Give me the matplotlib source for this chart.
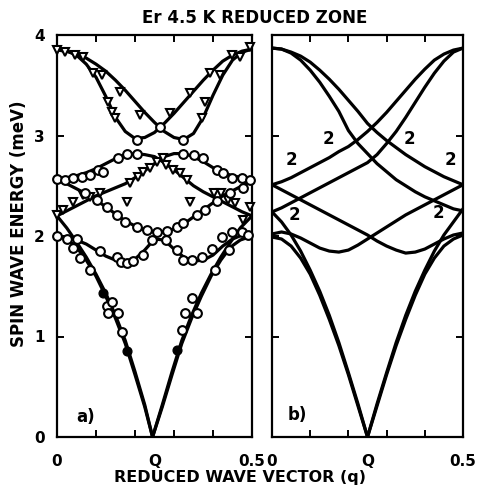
import numpy as np
import matplotlib.pyplot as plt

plt.rcParams['font.family'] = ['DejaVu Sans']
plt.rcParams['font.weight'] = 'bold'

# common wave-vector grid (reduced units, Q sits in the middle)
q = [0.0, 0.025, 0.05, 0.075, 0.1, 0.125, 0.15, 0.175, 0.2, 0.225, 0.25,
     0.275, 0.3, 0.325, 0.35, 0.375, 0.4, 0.425, 0.45, 0.475, 0.5]

# ---- a) fitted curves through the measured points ----
fit_p = [3.85, 3.84, 3.81, 3.77, 3.71, 3.64, 3.55, 3.45, 3.34, 3.23, 3.13,
         3.04, 2.98, 2.96, 3.02, 3.18, 3.40, 3.60, 3.75, 3.83, 3.86]
fit_p2 = [3.85, 3.84, 3.80, 3.71, 3.58, 3.39, 3.18, 3.04, 2.97, 2.98, 3.03,
          3.12, 3.22, 3.33, 3.44, 3.55, 3.65, 3.74, 3.80, 3.84, 3.86]
fit_h1 = [2.57, 2.58, 2.60, 2.63, 2.67, 2.72, 2.77, 2.81, 2.82, 2.81, 2.79,
          2.73, 2.66, 2.58, 2.50, 2.44, 2.39, 2.34, 2.29, 2.24, 2.20]
fit_h2 = [2.20, 2.25, 2.30, 2.35, 2.40, 2.44, 2.48, 2.52, 2.58, 2.65, 2.72,
          2.79, 2.82, 2.82, 2.79, 2.74, 2.68, 2.63, 2.60, 2.58, 2.57]
fit_u = [2.56, 2.52, 2.47, 2.42, 2.36, 2.29, 2.22, 2.15, 2.10, 2.06, 2.04,
         2.04, 2.07, 2.12, 2.19, 2.26, 2.33, 2.40, 2.45, 2.50, 2.56]
fit_w = [2.00, 1.99, 1.96, 1.92, 1.86, 1.80, 1.76, 1.74, 1.77, 1.86, 1.97,
         1.96, 1.87, 1.79, 1.75, 1.76, 1.81, 1.90, 1.97, 2.01, 2.01]

# acoustic branches, left and right of the cusp
qa_left = [0.0, 0.025, 0.05, 0.075, 0.1, 0.125, 0.15, 0.175, 0.2, 0.225, 0.245]
qa_right = [0.245, 0.27, 0.295, 0.32, 0.345, 0.37, 0.395, 0.42, 0.445, 0.47, 0.5]
fit_v1_left = [2.00, 1.97, 1.89, 1.76, 1.60, 1.40, 1.18, 0.93, 0.62, 0.30, 0.0]
fit_v2_left = [2.20, 2.08, 1.94, 1.79, 1.62, 1.43, 1.21, 0.96, 0.65, 0.32, 0.0]
fit_v1_right = [0.0, 0.30, 0.62, 0.93, 1.18, 1.40, 1.60, 1.76, 1.89, 1.96, 2.00]
fit_v2_right = [0.0, 0.32, 0.65, 0.96, 1.21, 1.43, 1.62, 1.79, 1.94, 2.08, 2.20]

# measured points
circ_q = [0.205, 0.264, 0.323,
          0.0, 0.02, 0.04, 0.064, 0.085, 0.106, 0.118, 0.157, 0.18, 0.205,
          0.323, 0.35, 0.375, 0.41, 0.426, 0.449, 0.474, 0.495,
          0.072, 0.103, 0.128, 0.154, 0.174, 0.205, 0.231, 0.256, 0.282, 0.308,
          0.323, 0.359, 0.38, 0.41, 0.444, 0.477,
          0.0, 0.025, 0.05, 0.11, 0.153, 0.165, 0.179, 0.195, 0.221, 0.243,
          0.28, 0.308, 0.323, 0.346, 0.372, 0.397, 0.423, 0.449, 0.474, 0.49,
          0.04, 0.06, 0.085, 0.128, 0.141, 0.131, 0.157, 0.167,
          0.44, 0.405, 0.346, 0.359, 0.328, 0.32]
circ_e = [2.96, 3.08, 2.96,
          2.57, 2.56, 2.58, 2.59, 2.61, 2.66, 2.64, 2.78, 2.82, 2.82,
          2.82, 2.81, 2.78, 2.66, 2.63, 2.58, 2.58, 2.56,
          2.43, 2.36, 2.29, 2.21, 2.14, 2.09, 2.06, 2.04, 2.05, 2.09,
          2.13, 2.21, 2.26, 2.35, 2.43, 2.48,
          2.00, 1.97, 1.97, 1.85, 1.79, 1.74, 1.73, 1.75, 1.81, 1.96,
          1.96, 1.86, 1.76, 1.76, 1.79, 1.87, 1.99, 2.04, 2.04, 2.01,
          1.88, 1.78, 1.66, 1.30, 1.34, 1.23, 1.23, 1.04,
          1.86, 1.66, 1.38, 1.23, 1.23, 1.06]
dot_q = [0.118, 0.179, 0.307]
dot_e = [1.43, 0.86, 0.87]
tri_q = [0.0, 0.02, 0.046, 0.067, 0.093, 0.115, 0.131, 0.14, 0.149, 0.162,
         0.213, 0.29, 0.341, 0.372, 0.38, 0.392, 0.418, 0.449, 0.469, 0.495,
         0.187, 0.208, 0.22, 0.238, 0.256, 0.272, 0.28, 0.297, 0.315, 0.333,
         0.18, 0.34, 0.04, 0.067, 0.085, 0.11, 0.0, 0.016,
         0.403, 0.42, 0.438, 0.456, 0.477, 0.495]
tri_e = [3.85, 3.83, 3.80, 3.78, 3.62, 3.60, 3.33, 3.23, 3.17, 3.43,
         3.20, 3.22, 3.42, 3.17, 3.33, 3.62, 3.60, 3.80, 3.78, 3.88,
         2.53, 2.59, 2.64, 2.68, 2.74, 2.78, 2.71, 2.66, 2.63, 2.56,
         2.34, 2.34, 2.34, 2.41, 2.39, 2.43, 2.21, 2.26,
         2.43, 2.43, 2.36, 2.33, 2.16, 2.29]

# ---- b) calculated branches ----
calc_d1 = [3.87, 3.86, 3.83, 3.79, 3.73, 3.65, 3.56, 3.46, 3.35, 3.24, 3.12,
           3.03, 2.95, 2.88, 2.81, 2.75, 2.69, 2.64, 2.59, 2.55, 2.51]
calc_a1 = [2.51, 2.54, 2.58, 2.63, 2.68, 2.73, 2.78, 2.84, 2.89, 2.96, 3.04,
           3.13, 3.23, 3.34, 3.45, 3.56, 3.66, 3.75, 3.81, 3.85, 3.87]
calc_d2 = [3.87, 3.86, 3.82, 3.75, 3.65, 3.53, 3.39, 3.24, 3.05, 2.92, 2.82,
           2.72, 2.64, 2.56, 2.50, 2.44, 2.39, 2.35, 2.31, 2.27, 2.25]
calc_a2 = [2.24, 2.28, 2.33, 2.38, 2.43, 2.48, 2.53, 2.58, 2.63, 2.68, 2.73,
           2.81, 2.92, 3.04, 3.18, 3.33, 3.48, 3.62, 3.74, 3.83, 3.87]
calc_c1 = [2.51, 2.46, 2.41, 2.36, 2.31, 2.26, 2.21, 2.16, 2.11, 2.06, 2.01,
           1.95, 1.90, 1.86, 1.83, 1.84, 1.87, 1.92, 1.97, 2.01, 2.03]
calc_c2 = [2.02, 2.04, 2.02, 1.98, 1.93, 1.88, 1.85, 1.84, 1.86, 1.91, 1.97,
           2.03, 2.09, 2.15, 2.21, 2.26, 2.31, 2.36, 2.41, 2.46, 2.51]
qb_left = [0.0, 0.025, 0.05, 0.075, 0.1, 0.125, 0.15, 0.175, 0.2, 0.225, 0.25]
qb_right = [0.25, 0.275, 0.3, 0.325, 0.35, 0.375, 0.4, 0.425, 0.45, 0.475, 0.5]
calc_v1_left = [1.99, 1.97, 1.90, 1.78, 1.62, 1.41, 1.17, 0.91, 0.62, 0.31, 0.0]
calc_v2_left = [2.24, 2.14, 2.01, 1.85, 1.66, 1.45, 1.21, 0.94, 0.64, 0.33, 0.0]
calc_v1_right = [0.0, 0.31, 0.62, 0.91, 1.17, 1.41, 1.62, 1.78, 1.90, 1.97, 2.01]
calc_v2_right = [0.0, 0.33, 0.64, 0.94, 1.21, 1.45, 1.66, 1.85, 2.01, 2.14, 2.27]

# multiplicity labels on the calculated branches
deg_q = [0.052, 0.147, 0.361, 0.466, 0.06, 0.437]
deg_e = [2.76, 2.97, 2.97, 2.76, 2.21, 2.23]

fig = plt.figure(figsize=(4.8, 4.92), dpi=100)
ax1 = fig.add_axes([57 / 480, 55 / 492, 195 / 480, 402 / 492])
ax2 = fig.add_axes([272 / 480, 55 / 492, 191 / 480, 402 / 492])

lw = 2.3
for e in [fit_p, fit_p2, fit_h1, fit_h2, fit_u, fit_w]:
    ax1.plot(q, e, color='black', lw=lw, zorder=2)
for e in [fit_v1_left, fit_v2_left]:
    ax1.plot(qa_left, e, color='black', lw=lw, zorder=2)
for e in [fit_v1_right, fit_v2_right]:
    ax1.plot(qa_right, e, color='black', lw=lw, zorder=2)

ax1.plot(circ_q, circ_e, 'o', ms=6.3, mfc='white', mec='black', mew=1.5,
         zorder=4, clip_on=False)
ax1.plot(tri_q, tri_e, 'v', ms=6.3, mfc='white', mec='black', mew=1.5,
         zorder=3, clip_on=False)
ax1.plot(dot_q, dot_e, 'o', ms=6.3, color='black', zorder=5)

for e in [calc_d1, calc_a1, calc_d2, calc_a2, calc_c1, calc_c2]:
    ax2.plot(q, e, color='black', lw=lw, zorder=2)
for e in [calc_v1_left, calc_v2_left]:
    ax2.plot(qb_left, e, color='black', lw=lw, zorder=2)
for e in [calc_v1_right, calc_v2_right]:
    ax2.plot(qb_right, e, color='black', lw=lw, zorder=2)

for xq, ye in zip(deg_q, deg_e):
    ax2.text(xq, ye, '2', fontsize=12, fontweight='bold',
             ha='center', va='center', zorder=5)

ax1.text(0.072, 0.2, 'a)', fontsize=12, fontweight='bold', ha='center', va='center')
ax2.text(0.065, 0.22, 'b)', fontsize=12, fontweight='bold', ha='center', va='center')

for ax in (ax1, ax2):
    ax.set_xlim(0, 0.5)
    ax.set_ylim(0, 4)
    for sp in ax.spines.values():
        sp.set_linewidth(1.6)
    ax.set_xticks([0, 0.25, 0.5])
    ax.set_xticklabels(['0', 'Q', '0.5'], fontsize=11, fontweight='bold')
    ax.set_xticks([0.1, 0.2, 0.3, 0.4], minor=True)
    ax.tick_params(axis='x', which='major', length=0, pad=12)
    ax.tick_params(axis='x', which='minor', direction='in', length=5,
                   width=1.4, top=True, bottom=True)
    ax.set_yticks([0, 1, 2, 3, 4])
    ax.tick_params(axis='y', direction='in', length=5, width=1.4,
                   left=True, right=True)

ax1.set_yticklabels(['0', '1', '2', '3', '4'], fontsize=11, fontweight='bold')
ax1.tick_params(axis='y', pad=9)
ax2.set_yticklabels([])

fig.text(0.53, 0.963, 'Er 4.5 K REDUCED ZONE', fontsize=12, fontweight='bold',
         ha='center', va='center')
fig.text(0.5, 0.029, 'REDUCED WAVE VECTOR (q)', fontsize=11.5, fontweight='bold',
         ha='center', va='center')
fig.text(0.04, 0.545, 'SPIN WAVE ENERGY (meV)', fontsize=12, fontweight='bold',
         ha='center', va='center', rotation=90)

fig.savefig('out.png', dpi=100)
